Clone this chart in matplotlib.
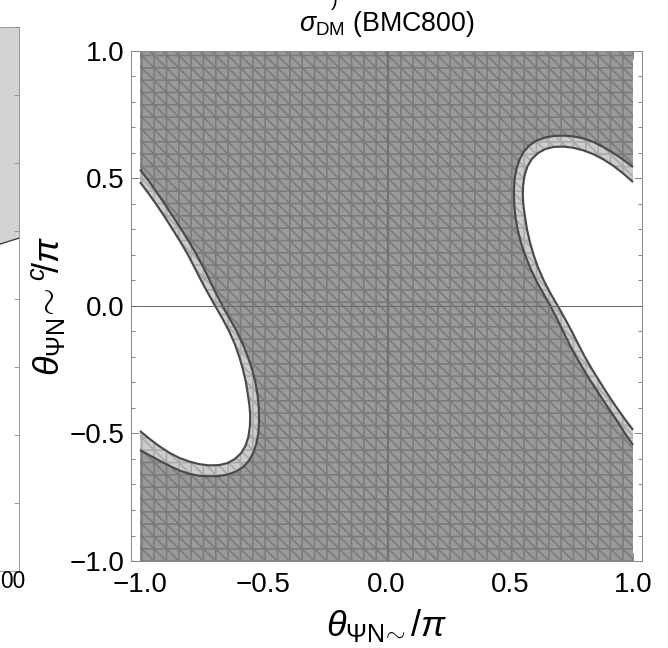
import matplotlib
matplotlib.use("Agg")
import matplotlib.pyplot as plt
from matplotlib.ticker import MultipleLocator

plt.rcParams['font.family'] = ['Liberation Sans', 'DejaVu Sans']
plt.rcParams['mathtext.fontset'] = 'custom'
plt.rcParams['mathtext.rm'] = 'Liberation Sans'
plt.rcParams['mathtext.it'] = 'Liberation Sans:italic'
plt.rcParams['mathtext.sf'] = 'Liberation Sans'
plt.rcParams['hatch.linewidth'] = 1.6

DPI = 74

# upper-right hole, outer and inner contour (theta/pi units)
ur_outer_x = [1.0, 0.96, 0.92, 0.88, 0.84, 0.80, 0.76, 0.72, 0.68, 0.645, 0.61, 0.58, 0.557, 0.54,
              0.528, 0.52, 0.517, 0.518, 0.523, 0.532, 0.545, 0.562, 0.583, 0.607, 0.636, 0.665,
              0.692, 0.717, 0.742, 0.770, 0.800, 0.832, 0.866, 0.900, 0.935, 0.968, 1.0]
ur_outer_y = [0.545, 0.574, 0.600, 0.623, 0.643, 0.657, 0.665, 0.668, 0.667, 0.661, 0.649, 0.63, 0.605, 0.575,
              0.54, 0.50, 0.455, 0.40, 0.35, 0.30, 0.25, 0.20, 0.15, 0.10, 0.05, 0.0,
              -0.05, -0.10, -0.15, -0.20, -0.25, -0.30, -0.35, -0.40, -0.45, -0.50, -0.545]
ur_inner_x = [1.0, 0.96, 0.92, 0.88, 0.84, 0.80, 0.76, 0.72, 0.68, 0.645, 0.615, 0.59, 0.572, 0.56,
              0.554, 0.553, 0.556, 0.562, 0.570, 0.582, 0.597, 0.615, 0.638, 0.665, 0.695,
              0.724, 0.752, 0.778, 0.805, 0.835, 0.866, 0.90, 0.935, 0.968, 1.0]
ur_inner_y = [0.486, 0.52, 0.55, 0.575, 0.595, 0.61, 0.62, 0.625, 0.624, 0.616, 0.600, 0.577, 0.548, 0.512,
              0.47, 0.43, 0.39, 0.35, 0.30, 0.25, 0.20, 0.15, 0.10, 0.05, 0.0,
              -0.05, -0.10, -0.15, -0.20, -0.25, -0.298, -0.35, -0.40, -0.445, -0.486]

# lower-left hole
ll_outer_x = [-1.0, -0.96, -0.92, -0.88, -0.84, -0.80, -0.76, -0.72, -0.68, -0.645, -0.61, -0.58, -0.557, -0.54,
              -0.528, -0.52, -0.517, -0.518, -0.523, -0.532, -0.545, -0.562, -0.583, -0.607, -0.636, -0.665,
              -0.692, -0.717, -0.742, -0.770, -0.800, -0.832, -0.866, -0.900, -0.935, -0.968, -1.0]
ll_outer_y = [-0.565, -0.586, -0.607, -0.627, -0.645, -0.658, -0.666, -0.668, -0.667, -0.661, -0.649, -0.63, -0.605, -0.575,
              -0.54, -0.50, -0.455, -0.40, -0.35, -0.30, -0.25, -0.20, -0.15, -0.10, -0.05, 0.0,
              0.05, 0.10, 0.15, 0.20, 0.25, 0.30, 0.35, 0.40, 0.45, 0.495, 0.535]
ll_inner_x = [-1.0, -0.96, -0.92, -0.88, -0.84, -0.80, -0.76, -0.72, -0.68, -0.645, -0.615, -0.59, -0.572, -0.56,
              -0.554, -0.553, -0.556, -0.562, -0.570, -0.582, -0.597, -0.615, -0.638, -0.665, -0.695,
              -0.724, -0.752, -0.778, -0.805, -0.835, -0.866, -0.90, -0.935, -0.968, -1.0]
ll_inner_y = [-0.49, -0.522, -0.551, -0.576, -0.596, -0.61, -0.62, -0.625, -0.624, -0.616, -0.600, -0.577, -0.548, -0.512,
              -0.47, -0.43, -0.39, -0.35, -0.30, -0.25, -0.20, -0.15, -0.10, -0.05, 0.0,
              0.05, 0.10, 0.15, 0.20, 0.25, 0.298, 0.35, 0.40, 0.445, 0.486]

ticks = [-1.0, -0.5, 0.0, 0.5, 1.0]
tick_labels = ['\u22121.0', '\u22120.5', '0.0', '0.5', '1.0']

# neighbouring panel (only its right edge is visible)
left_line_x = [0.0, 1.0]
left_line_y = [0.562, 0.612]
left_ticks = [0.0, 0.125, 0.25, 0.375, 0.5, 0.625, 0.75, 0.875, 1.0]

fig = plt.figure(figsize=(668 / DPI, 648 / DPI), dpi=DPI)

W, H = 668, 648
ax = fig.add_axes([131 / W, 1 - 561 / H, (642 - 131) / W, (561 - 51) / H])
pad = 9 / 246.5
ax.set_xlim(-1 - pad, 1 + pad)
ax.set_ylim(-1, 1)

dark_face, dark_hatch = '#9a9a9a', '#7b7b7b'
band_face, band_hatch = '#cccccc', '#a9a9a9'
line_c = '#4a4a4a'

ax.fill([-1, 1, 1, -1], [-1, -1, 1, 1], facecolor=dark_face, edgecolor=dark_hatch,
        hatch='+\\\\', linewidth=0, zorder=1)
for ox, oy, ix, iy in [(ur_outer_x, ur_outer_y, ur_inner_x, ur_inner_y),
                       (ll_outer_x, ll_outer_y, ll_inner_x, ll_inner_y)]:
    ax.fill(ox, oy, facecolor=band_face, edgecolor=band_hatch, hatch='+\\\\', linewidth=0, zorder=2)
    ax.fill(ix, iy, facecolor='white', edgecolor='none', linewidth=0, zorder=3)
    ax.plot(ox, oy, color=line_c, lw=2.1, zorder=4, solid_capstyle='butt')
    ax.plot(ix, iy, color=line_c, lw=2.1, zorder=4, solid_capstyle='butt')

ax.axhline(0, color='#6a6a6a', lw=1.0, zorder=5)
ax.axvline(0, color='#6a6a6a', lw=1.0, zorder=5)

ax.set_xticks(ticks)
ax.set_yticks(ticks)
ax.set_xticklabels(tick_labels)
ax.set_yticklabels(tick_labels)
ax.xaxis.set_minor_locator(MultipleLocator(0.1))
ax.yaxis.set_minor_locator(MultipleLocator(0.1))
ax.tick_params(which='both', direction='in', top=True, right=True, color='#8a8a8a',
               width=1.0, labelsize=27, labelcolor='black')
ax.tick_params(which='major', length=7.5)
ax.tick_params(axis='x', which='major', pad=11)
ax.tick_params(axis='y', which='major', pad=6)
ax.tick_params(which='minor', length=4)
for s in ax.spines.values():
    s.set_color('#8a8a8a')
    s.set_linewidth(1.0)

ax.set_title(r'$\sigma_{\rm DM}$ (BMC800)', fontsize=26, pad=19)
ax.set_xlabel(r'$\theta_{\Psi \rm N\!\sim}/\pi$', fontsize=35, labelpad=8)
ax.set_ylabel(r'$\theta_{\Psi \rm N}\!\sim^{c}\!/\pi$', fontsize=35, labelpad=3)

# partial neighbouring panel on the left
lax = fig.add_axes([-0.1, 1 - 571 / H, 0.1 + 19 / W, (571 - 27) / H])
lax.set_xlim(0, 1)
lax.set_ylim(0, 1)
lax.fill_between(left_line_x, left_line_y, 1, color='#d3d3d3', lw=0)
lax.plot(left_line_x, left_line_y, color='#333333', lw=1.2)
lax.set_xticks([])
lax.set_yticks(left_ticks)
lax.tick_params(axis='y', direction='in', right=True, left=False, labelleft=False,
                length=5, color='#8a8a8a')
for s in lax.spines.values():
    s.set_color('#8a8a8a')
fig.text(0, 1 - 582 / H, '00', fontsize=22, ha='left', va='center')
fig.text(331 / W, 1 - 1 / H, ')', fontsize=20, ha='left', va='center')

fig.savefig('out.png', dpi=DPI)
